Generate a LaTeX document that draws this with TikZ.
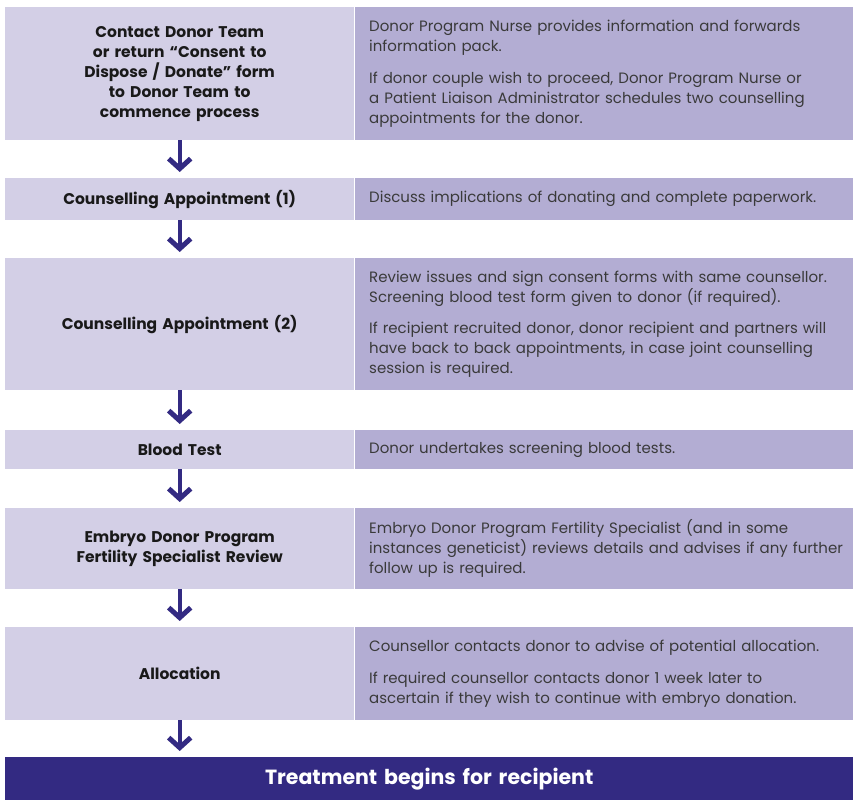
\documentclass[tikz,border=0pt]{standalone}
\usepackage{fontspec}
\setmainfont{Poppins}
\usetikzlibrary{arrows.meta}

\definecolor{stepfill}{HTML}{D3CFE6}
\definecolor{notefill}{HTML}{B3ADD3}
\definecolor{darkpurple}{HTML}{332A82}
\definecolor{bodytext}{HTML}{3A3A3A}

\tikzset{
  stepbox/.style={anchor=north west, fill=stepfill, inner sep=0pt,
    text width=349pt, align=center, text=black!90,
    font=\bfseries\fontsize{15.5}{20}\selectfont},
  notebox/.style={anchor=north west, fill=notefill, inner xsep=14pt,
    inner ysep=0pt, text width=470pt, align=left, text=bodytext,
    font=\fontsize{15}{20}\selectfont},
  endbar/.style={anchor=north west, fill=darkpurple, inner sep=0pt,
    text width=848pt, align=center, text=white,
    font=\bfseries\fontsize{20.5}{22}\selectfont},
  flow/.style={darkpurple, line width=4pt, shorten >=6pt,
    -{Straight Barb[length=10pt, width=22pt, line width=5pt]}},
}

\begin{document}
\begin{tikzpicture}[x=1pt, y=-1pt]
  \useasboundingbox (0,0) rectangle (853,800);

  % steps and notes
  \node[stepbox, minimum height=133pt] (contact) at (5,7)
    {Contact Donor Team\\ or return “Consent to\\ Dispose / Donate” form\\
     to Donor Team to\\ commence process};
  \node[notebox, minimum height=133pt] (contactnote) at (355,7)
    {Donor Program Nurse provides information and forwards\\
     information pack.\\[12pt]
     If donor couple wish to proceed, Donor Program Nurse or\\
     a Patient Liaison Administrator schedules two counselling\\
     appointments for the donor.};

  \node[stepbox, minimum height=42pt] (counsone) at (5,178)
    {Counselling Appointment (1)};
  \node[notebox, minimum height=42pt] (counsonenote) at (355,178)
    {Discuss implications of donating and complete paperwork.};

  \node[stepbox, minimum height=132pt] (counstwo) at (5,258)
    {Counselling Appointment (2)};
  \node[notebox, minimum height=132pt] (counstwonote) at (355,258)
    {Review issues and sign consent forms with same counsellor.\\
     Screening blood test form given to donor (if required).\\[11pt]
     If recipient recruited donor, donor recipient and partners will\\
     have back to back appointments, in case joint counselling\\
     session is required.};

  \node[stepbox, minimum height=39pt] (blood) at (5,430)
    {Blood Test};
  \node[notebox, minimum height=39pt] (bloodnote) at (355,430)
    {Donor undertakes screening blood tests.};

  \node[stepbox, minimum height=81pt] (review) at (5,508)
    {Embryo Donor Program\\ Fertility Specialist Review};
  \node[notebox, minimum height=81pt] (reviewnote) at (355,508)
    {Embryo Donor Program Fertility Specialist (and in some\\
     \mbox{instances geneticist) reviews details and advises if any further}\\
     follow up is required.};

  \node[stepbox, minimum height=93pt] (alloc) at (5,627)
    {Allocation};
  \node[notebox, minimum height=93pt] (allocnote) at (355,627)
    {Counsellor contacts donor to advise of potential allocation.\\[11.5pt]
     If required counsellor contacts donor 1 week later to\\
     ascertain if they wish to continue with embryo donation.};

  \node[endbar, minimum height=43pt] (treatment) at (5,757)
    {Treatment begins for recipient};

  % arrows
  \draw[flow] (contact) -- (counsone);
  \draw[flow] (counsone) -- (counstwo);
  \draw[flow] (counstwo) -- (blood);
  \draw[flow] (blood) -- (review);
  \draw[flow] (review) -- (alloc);
  \draw[flow] (alloc) -- (alloc.south |- treatment.north);
\end{tikzpicture}
\end{document}
